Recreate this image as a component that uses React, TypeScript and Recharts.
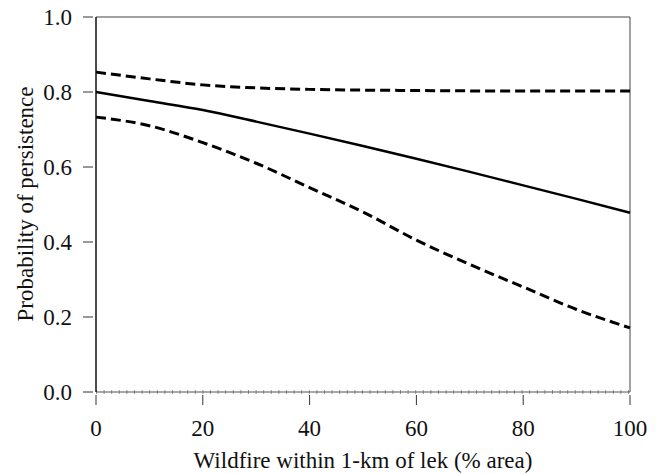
import { LineChart, Line, XAxis, YAxis, ReferenceLine } from 'recharts';

const wildfire = [0, 10, 20, 30, 40, 50, 60, 70, 80, 90, 100];
const estimate = [0.8, 0.776, 0.752, 0.721, 0.689, 0.656, 0.622, 0.587, 0.551, 0.515, 0.478];
const upperCI = [0.853, 0.835, 0.819, 0.811, 0.807, 0.805, 0.804, 0.803, 0.803, 0.803, 0.803];
const lowerCI = [0.733, 0.71, 0.665, 0.61, 0.545, 0.48, 0.405, 0.34, 0.28, 0.22, 0.171];

const xTicks = [0, 20, 40, 60, 80, 100];
const yTicks = [0, 0.2, 0.4, 0.6, 0.8, 1.0];

const data = wildfire.map((w, i) => ({
  w,
  est: estimate[i],
  hi: upperCI[i],
  lo: lowerCI[i],
}));

const txt = { fontFamily: "'Liberation Serif', 'Times New Roman', Times, serif", fontSize: 23 };

function XTick({ x, y, payload }: any) {
  return (
    <g>
      <line x1={x} x2={x} y1={y - 5} y2={y + 5} stroke="#333" />
      <text x={x} y={y + 28} textAnchor="middle" dominantBaseline="central" style={txt} fill="#111">
        {payload.value}
      </text>
    </g>
  );
}

function YTick({ x, y, payload }: any) {
  return (
    <g>
      <line x1={x - 5} x2={x + 5} y1={y} y2={y} stroke="#333" />
      <text x={x - 16} y={y} textAnchor="end" dominantBaseline="central" style={txt} fill="#111">
        {payload.value.toFixed(1)}
      </text>
    </g>
  );
}

export default function App() {
  return (
    <div style={{ position: 'absolute', left: 0, top: 0, width: 660, height: 474, background: '#fff' }}>
      <LineChart width={660} height={474} data={data} margin={{ top: 17, right: 30, left: 0, bottom: 0 }}>
        <XAxis
          dataKey="w"
          type="number"
          domain={[0, 100]}
          ticks={xTicks}
          tick={<XTick />}
          tickLine={false}
          axisLine={{ stroke: '#555' }}
          height={82}
        />
        <YAxis
          type="number"
          domain={[0, 1]}
          ticks={yTicks}
          tick={<YTick />}
          tickLine={false}
          axisLine={{ stroke: '#111', strokeWidth: 1.5 }}
          width={96}
        />
        <ReferenceLine y={1} stroke="#444" />
        <ReferenceLine x={100} stroke="#444" />
        <ReferenceLine y={0} stroke="#999" strokeWidth={4} strokeDasharray="1 6.6" />
        <Line dataKey="hi" type="monotone" stroke="#000" strokeWidth={3} strokeDasharray="10 5" dot={false} isAnimationActive={false} />
        <Line dataKey="est" type="monotone" stroke="#000" strokeWidth={2.5} dot={false} isAnimationActive={false} />
        <Line dataKey="lo" type="monotone" stroke="#000" strokeWidth={3} strokeDasharray="10 5" dot={false} isAnimationActive={false} />
        <text x={25} y={204} transform="rotate(-90 25 204)" textAnchor="middle" dominantBaseline="central" style={txt} fill="#111">
          Probability of persistence
        </text>
        <text x={363} y={460} textAnchor="middle" dominantBaseline="central" style={txt} fill="#111">
          Wildfire within 1-km of lek (% area)
        </text>
      </LineChart>
    </div>
  );
}
